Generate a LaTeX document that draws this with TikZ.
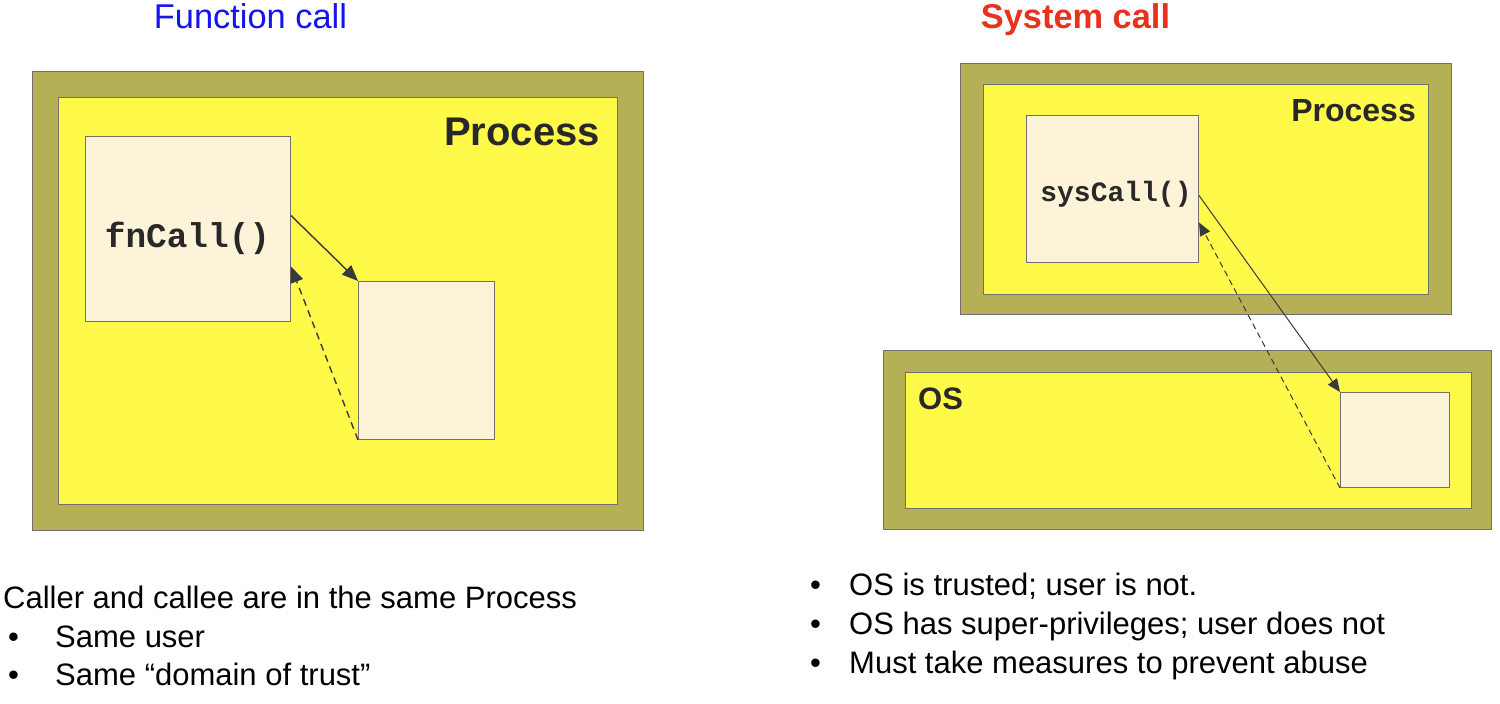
\documentclass[tikz,border=0pt]{standalone}
\usepackage{fontspec}
\setmainfont{Liberation Sans}
\newfontfamily\monofont{Liberation Mono}
\usetikzlibrary{arrows.meta}
\definecolor{olive}{RGB}{181,175,86}
\definecolor{yel}{RGB}{255,249,74}
\definecolor{cream}{RGB}{253,243,216}
\definecolor{edge}{RGB}{112,112,112}
\definecolor{arr}{RGB}{58,58,58}
\definecolor{tblue}{RGB}{20,20,240}
\definecolor{tred}{RGB}{232,50,30}
\definecolor{dark}{RGB}{40,40,40}
\tikzset{
  outerbox/.style={draw=edge, line width=0.8pt, fill=olive, anchor=north west, inner sep=0pt},
  innerbox/.style={draw=edge, line width=0.8pt, fill=yel, anchor=north west, inner sep=0pt},
  codebox/.style={draw=edge, line width=1pt, fill=cream, anchor=north west, inner sep=0pt},
  lbl/.style={font=\fontsize{40}{44}\selectfont\bfseries, text=dark, inner sep=0pt},
  code/.style={font=\monofont\bfseries, text=dark, inner sep=0pt},
  body/.style={font=\fontsize{31}{34}\selectfont, text=black, inner sep=0pt, anchor=base west},
  callarrow/.style={draw=arr, line width=1.4pt, -{Triangle[length=16pt,width=13pt]}},
  retarrow/.style={draw=arr, line width=1.4pt, dashed, dash pattern=on 7pt off 5pt, -{Triangle[length=16pt,width=13pt]}},
  callarrowR/.style={draw=arr, line width=1pt, -{Triangle[length=13pt,width=11pt]}},
  retarrowR/.style={draw=arr, line width=1pt, dash pattern=on 6pt off 4pt, -{Triangle[length=13pt,width=11pt]}},
}
\begin{document}
\begin{tikzpicture}[x=1pt, y=-1pt]
\useasboundingbox[fill=white] (0,0) rectangle (1500,704);

% titles
\node[font=\fontsize{34.4}{38}\selectfont, text=tblue, anchor=base, inner sep=0pt] (t1) at (250.5,28) {Function call};
\node[font=\fontsize{34.4}{38}\selectfont\bfseries, text=tred, anchor=base, inner sep=0pt] (t2) at (1075.5,28) {System call};

% ---------- left: function call ----------
\node[outerbox, minimum width=611pt, minimum height=459pt] (lout) at (32,71) {};
\node[innerbox, minimum width=559pt, minimum height=407pt] (lin) at (58,97) {};
\node[lbl, anchor=base east] (lproc) at (600,145) {Process};
\node[codebox, minimum width=205pt, minimum height=185pt] (fn) at (85,136) {};
\node[code, font=\monofont\bfseries\fontsize{34.4}{38}\selectfont] (fntxt) at (187.5,238) {fnCall()};
\node[codebox, minimum width=136pt, minimum height=158pt] (callee) at (358,281) {};
\draw[callarrow] ([yshift=13.5pt]fn.east) -- (callee.north west);
\draw[retarrow] (callee.south west) -- ([yshift=-37.5pt]fn.east);

% ---------- right: system call ----------
\node[outerbox, minimum width=491pt, minimum height=251pt] (rout) at (960,63) {};
\node[innerbox, minimum width=445pt, minimum height=210pt] (rin) at (983,84) {};
\node[lbl, font=\fontsize{32}{36}\selectfont\bfseries, anchor=base east] (rproc) at (1416,121) {Process};
\node[codebox, minimum width=172pt, minimum height=147pt] (sys) at (1026,115) {};
\node[code, font=\monofont\bfseries\fontsize{28}{31}\selectfont] (systxt) at (1116,194) {sysCall()};

\node[outerbox, minimum width=608pt, minimum height=179pt] (osout) at (883,350) {};
\node[innerbox, minimum width=566pt, minimum height=136pt] (osin) at (905,372) {};
\node[lbl, font=\fontsize{31}{34}\selectfont\bfseries, anchor=base west] (oslbl) at (918,409) {OS};
\node[codebox, minimum width=109pt, minimum height=95pt] (oscallee) at (1340,392) {};
\draw[callarrowR] ([yshift=-6.5pt]sys.east) -- (oscallee.north west);
\draw[retarrowR] (oscallee.south west) -- ([yshift=-33.5pt]sys.east);

% ---------- bottom text ----------
\node[body] (l1) at (3,608) {Caller and callee are in the same Process};
\node[body] (lb2) at (8,647) {•};
\node[body] (l2) at (55,647) {Same user};
\node[body] (lb3) at (8,685) {•};
\node[body] (l3) at (55,685) {Same “domain of trust”};

\node[body] (rb1) at (810,595) {•};
\node[body] (r1) at (849,595) {OS is trusted; user is not.};
\node[body] (rb2) at (810,634) {•};
\node[body] (r2) at (849,634) {OS has super-privileges; user does not};
\node[body] (rb3) at (810,673) {•};
\node[body] (r3) at (849,673) {Must take measures to prevent abuse};
\end{tikzpicture}
\end{document}
